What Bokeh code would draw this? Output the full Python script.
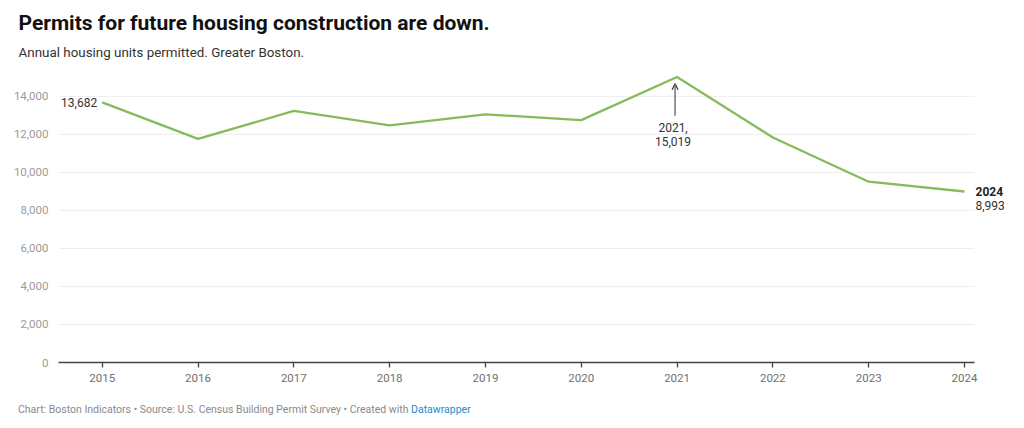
from bokeh.plotting import figure
from bokeh.layouts import column
from bokeh.models import Label, Arrow, OpenHead, NumeralTickFormatter, FixedTicker, Range1d, Title, Div
from bokeh.embed import file_html
from bokeh.resources import INLINE

# ---- data ----
years = [2015, 2016, 2017, 2018, 2019, 2020, 2021, 2022, 2023, 2024]
permits = [13682, 11760, 13230, 12470, 13050, 12750, 15019, 11830, 9510, 8993]
y_ticks = [0, 2000, 4000, 6000, 8000, 10000, 12000, 14000]
x_ticks = years

title_text = "Permits for future housing construction are down."
subtitle_text = "Annual housing units permitted. Greater Boston."
footer_text = "Chart: Boston Indicators \u2022 Source: U.S. Census Building Permit Survey \u2022 Created with"
footer_link = "Datawrapper"

FONT = "Roboto"
W = 1016
H_MAIN = 396
H_FOOT = 28
Y_MAX = 15200
frame_h = 288.7
px_per_unit = frame_h / Y_MAX
px_per_year = 95.8
X0 = 2015 - 43.7 / px_per_year
X_AXIS_END = 2024 + 10 / px_per_year
X1 = 2024 + 46 / px_per_year

p = figure(width=W, height=H_MAIN, output_backend="svg", toolbar_location=None,
           x_range=Range1d(X0, X1), y_range=Range1d(0, Y_MAX),
           min_border_left=58, min_border_right=6, min_border_top=73, min_border_bottom=H_MAIN - 362)
p.outline_line_color = None
p.background_fill_color = "white"
p.border_fill_color = "white"

# horizontal gridlines (ending where the axis ends)
p.segment(x0=[X0] * len(y_ticks), x1=[X_AXIS_END] * len(y_ticks), y0=y_ticks, y1=y_ticks,
          line_color="#ececec", line_width=1)

p.line(years, permits, line_color="#85bb5c", line_width=2.3)

# axes
p.xaxis.ticker = FixedTicker(ticks=x_ticks)
p.xaxis.bounds = (X0, X_AXIS_END)
p.yaxis.ticker = FixedTicker(ticks=y_ticks)
p.yaxis.formatter = NumeralTickFormatter(format="0,0")
p.yaxis.axis_line_color = None
p.yaxis.major_tick_line_color = None
p.yaxis.minor_tick_line_color = None
p.yaxis.major_label_text_font = FONT
p.yaxis.major_label_text_font_size = "11.5px"
p.yaxis.major_label_text_color = "#9a9a9a"
p.yaxis.major_label_standoff = 4

p.xaxis.axis_line_color = "#444444"
p.xaxis.axis_line_width = 1.3
p.xaxis.major_tick_line_color = "#444444"
p.xaxis.major_tick_line_width = 1.3
p.xaxis.major_tick_in = 0
p.xaxis.major_tick_out = 5
p.xaxis.minor_tick_line_color = None
p.xaxis.major_label_text_font = FONT
p.xaxis.major_label_text_font_size = "11.5px"
p.xaxis.major_label_text_color = "#707070"
p.xaxis.major_label_standoff = 6

p.xgrid.grid_line_color = None
p.ygrid.grid_line_color = None

# data annotations
p.add_layout(Label(x=years[0], y=permits[0], text=f"{permits[0]:,}", x_offset=-5,
                   text_align="right", text_baseline="middle", text_font=FONT,
                   text_font_size="12px", text_color="#333333"))

i_max = permits.index(max(permits))
p.add_layout(Label(x=years[i_max], y=permits[i_max], text=f"{years[i_max]},", x_offset=-4,
                   y_offset=-50.7, text_align="center", text_baseline="middle", text_font=FONT,
                   text_font_size="12px", text_color="#333333"))
p.add_layout(Label(x=years[i_max], y=permits[i_max], text=f"{permits[i_max]:,}", x_offset=-4,
                   y_offset=-64.2, text_align="center", text_baseline="middle", text_font=FONT,
                   text_font_size="12px", text_color="#333333"))
ax = years[i_max] - 2 / px_per_year
p.add_layout(Arrow(x_start=ax, y_start=permits[i_max] - 38.7 / px_per_unit,
                   x_end=ax, y_end=permits[i_max] - 6.7 / px_per_unit,
                   line_color="#6a6a6a", line_width=1.4,
                   end=OpenHead(size=6, line_color="#333333", line_width=1.2)))

p.add_layout(Label(x=years[-1], y=permits[-1], text=f"{years[-1]}", x_offset=11,
                   text_align="left", text_baseline="middle", text_font=FONT,
                   text_font_size="12px", text_font_style="bold", text_color="#222222"))
p.add_layout(Label(x=years[-1], y=permits[-1], text=f"{permits[-1]:,}", x_offset=11,
                   y_offset=-13.5, text_align="left", text_baseline="middle", text_font=FONT,
                   text_font_size="12px", text_color="#333333"))

# titles (subtitle first: closest to the frame)
p.add_layout(Title(text=subtitle_text, align="left", offset=-40, standoff=28,
                   text_font=FONT, text_font_size="13.4px", text_font_style="normal",
                   text_color="#333333"), "above")
p.add_layout(Title(text=title_text, align="left", offset=-40, standoff=-12,
                   text_font=FONT, text_font_size="21px", text_font_style="bold",
                   text_color="#111111"), "above")

# footer (source line with the coloured link)
footer = Div(text=f'{footer_text} <span style="color:#1d8acb">{footer_link}</span>',
             width=W, height=H_FOOT, margin=(0, 0, 0, 0),
             styles={"font-family": "Roboto", "font-size": "10.5px", "color": "#8a8a8a",
                     "padding-left": "18px", "line-height": f"{H_FOOT}px",
                     "white-space": "nowrap", "box-sizing": "border-box"})

layout = column(p, footer, spacing=0)
open("out.html", "w").write(file_html(layout, INLINE))
